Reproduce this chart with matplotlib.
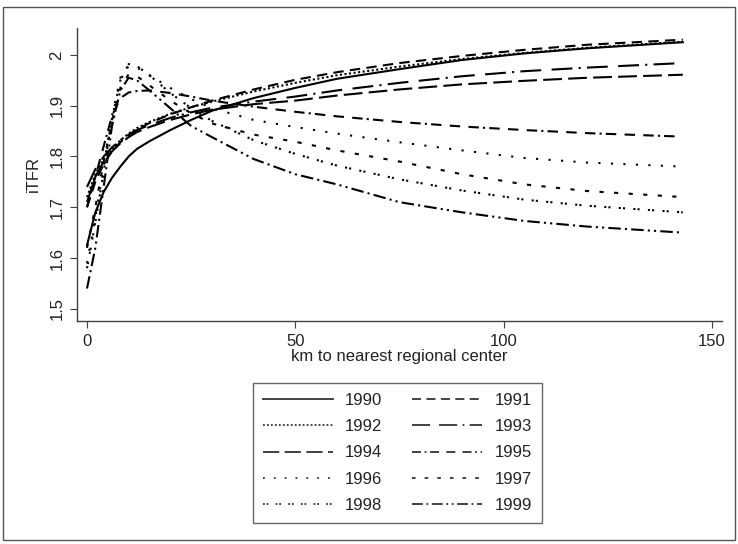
import matplotlib
matplotlib.use("Agg")
import matplotlib.pyplot as plt
from matplotlib.lines import Line2D
from matplotlib.patches import Rectangle

plt.rcParams["font.family"] = ["Liberation Sans", "DejaVu Sans"]

# km to nearest regional center (sample points)
km = [0, 2, 4, 6, 8, 10, 12, 15, 20, 25, 30, 40, 50, 60, 75, 90, 105, 120, 143]

itfr_1990 = [1.625, 1.69, 1.73, 1.758, 1.78, 1.80, 1.815, 1.83, 1.852, 1.872, 1.89,
             1.915, 1.935, 1.953, 1.972, 1.99, 2.003, 2.013, 2.025]
itfr_1991 = [1.70, 1.75, 1.785, 1.81, 1.828, 1.842, 1.853, 1.866, 1.883, 1.897, 1.91,
             1.932, 1.951, 1.966, 1.984, 1.998, 2.01, 2.02, 2.03]
itfr_1992 = [1.72, 1.765, 1.795, 1.815, 1.832, 1.845, 1.856, 1.868, 1.884, 1.897, 1.908,
             1.928, 1.945, 1.96, 1.977, 1.992, 2.004, 2.014, 2.026]
itfr_1993 = [1.74, 1.775, 1.80, 1.818, 1.832, 1.843, 1.852, 1.862, 1.876, 1.887, 1.896,
             1.908, 1.918, 1.93, 1.945, 1.958, 1.968, 1.975, 1.984]
itfr_1994 = [1.71, 1.76, 1.79, 1.81, 1.826, 1.838, 1.848, 1.858, 1.872, 1.883, 1.892,
             1.903, 1.91, 1.92, 1.932, 1.942, 1.949, 1.955, 1.961]
itfr_1995 = [1.70, 1.76, 1.82, 1.88, 1.915, 1.926, 1.929, 1.93, 1.925, 1.918, 1.91,
             1.898, 1.888, 1.879, 1.868, 1.859, 1.852, 1.846, 1.839]
itfr_1996 = [1.59, 1.68, 1.78, 1.88, 1.955, 1.978, 1.975, 1.96, 1.935, 1.913, 1.895,
             1.872, 1.858, 1.845, 1.828, 1.812, 1.797, 1.788, 1.78]
itfr_1997 = [1.62, 1.70, 1.79, 1.87, 1.935, 1.962, 1.958, 1.94, 1.91, 1.885, 1.865,
             1.843, 1.829, 1.812, 1.79, 1.765, 1.745, 1.732, 1.72]
itfr_1998 = [1.58, 1.67, 1.77, 1.875, 1.95, 1.982, 1.978, 1.96, 1.925, 1.895, 1.87,
             1.832, 1.805, 1.782, 1.755, 1.733, 1.715, 1.703, 1.69]
itfr_1999 = [1.54, 1.62, 1.74, 1.86, 1.93, 1.955, 1.95, 1.93, 1.895, 1.86, 1.838,
             1.795, 1.765, 1.745, 1.71, 1.69, 1.673, 1.662, 1.65]

years = ["1990", "1991", "1992", "1993", "1994", "1995", "1996", "1997", "1998", "1999"]
series = [itfr_1990, itfr_1991, itfr_1992, itfr_1993, itfr_1994,
          itfr_1995, itfr_1996, itfr_1997, itfr_1998, itfr_1999]

# Stata-style monochrome patterns
styles = [
    "-",
    (0, (5, 3)),
    (0, (1, 1.2)),
    (0, (10, 5, 10, 3, 1, 3)),
    (0, (9, 3)),
    (0, (5, 2, 1, 2, 5, 4, 5, 4)),
    (0, (1, 5)),
    (0, (2, 5)),
    (0, (1, 1, 1, 4)),
    (0, (6, 2, 1, 2, 6, 2, 1, 2, 1, 2)),
]

fig = plt.figure(figsize=(7.38, 5.44), dpi=100)
ax = fig.add_axes([77 / 738, 1 - 321 / 544, 645 / 738, 293 / 544])

handles = []
for yr, vals, ls in zip(years, series, styles):
    ax.plot(km, vals, color="black", lw=1.5, linestyle=ls)
    handles.append(Line2D([], [], color="#333333", lw=1.3, linestyle=ls))

ax.set_xlim(-2.4, 152.4)
ax.set_ylim(1.476, 2.053)
ax.set_xticks([0, 50, 100, 150])
ax.set_yticks([1.5, 1.6, 1.7, 1.8, 1.9, 2.0])
ax.set_yticklabels(["1.5", "1.6", "1.7", "1.8", "1.9", "2"], rotation=90, va="center")
for s in ["top", "right"]:
    ax.spines[s].set_visible(False)
for s in ["left", "bottom"]:
    ax.spines[s].set_color("#404040")
    ax.spines[s].set_linewidth(1.0)
ax.tick_params(direction="out", length=5, color="#404040", labelsize=12,
               labelcolor="#222222", pad=4)
ax.set_ylabel("iTFR", fontsize=12, color="#222222", labelpad=6)
ax.set_xlabel("km to nearest regional center", fontsize=12, color="#222222", labelpad=0)

# legend: column-major order so rows read 1990/1991, 1992/1993, ...
order = [0, 2, 4, 6, 8, 1, 3, 5, 7, 9]
leg = fig.legend([handles[i] for i in order], [years[i] for i in order],
                 ncol=2, loc="upper left", bbox_to_anchor=(253 / 738, 1 - 383 / 544),
                 borderaxespad=0, fontsize=12, handlelength=4.2, handletextpad=0.72,
                 columnspacing=1.8, labelspacing=0.67, borderpad=0.6,
                 fancybox=False, frameon=True)
leg.get_frame().set_edgecolor("#404040")
leg.get_frame().set_linewidth(1.0)
for t in leg.get_texts():
    t.set_color("#222222")

fig.patches.append(Rectangle((3 / 738, 4 / 544), 732 / 738, 533 / 544,
                             transform=fig.transFigure, fill=False,
                             edgecolor="#555555", lw=1.0))

fig.savefig("out.png", dpi=100)
